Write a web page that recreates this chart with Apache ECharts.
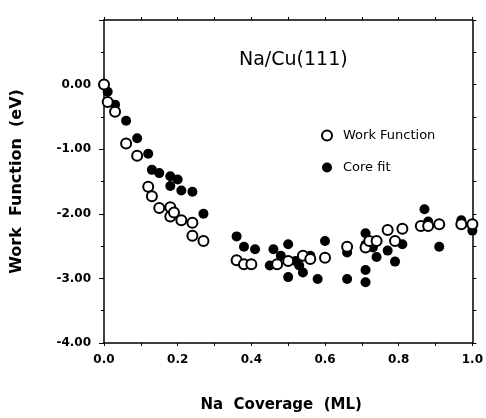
<!DOCTYPE html>
<html style="height: 100%">
    <head>
        <meta charset="utf-8">
    </head>
    <body style="height: 100%; margin: 0; background: #fff">
        <div id="container" style="height: 418px; width: 486px;"></div>

        <script type="text/javascript" src="https://cdn.jsdelivr.net/npm/echarts@6/dist/echarts.min.js"></script>
        <script type="text/javascript">
var dom = document.getElementById("container");
var myChart = echarts.init(dom, null, {renderer: 'canvas'});

// Na coverage (ML), work function change (eV) -- open circles
var workFunction = [
	[0.00, 0.00], [0.01, -0.27], [0.03, -0.42], [0.06, -0.91], [0.09, -1.10],
	[0.12, -1.58], [0.13, -1.73], [0.15, -1.91], [0.18, -1.90], [0.18, -2.04],
	[0.19, -1.98], [0.21, -2.10], [0.24, -2.14], [0.24, -2.34], [0.27, -2.42],
	[0.36, -2.72], [0.38, -2.78], [0.40, -2.78], [0.47, -2.78], [0.50, -2.73],
	[0.54, -2.65], [0.56, -2.70], [0.60, -2.68], [0.66, -2.51], [0.71, -2.52],
	[0.72, -2.42], [0.74, -2.42], [0.79, -2.42], [0.77, -2.25], [0.81, -2.23],
	[0.86, -2.19], [0.88, -2.19], [0.91, -2.16], [0.97, -2.16], [1.00, -2.16]
];

// Na coverage (ML), core level fit (eV) -- filled circles
var coreFit = [
	[0.01, -0.11], [0.03, -0.31], [0.06, -0.56], [0.09, -0.83], [0.12, -1.07],
	[0.13, -1.32], [0.15, -1.37], [0.18, -1.42], [0.20, -1.47], [0.18, -1.57],
	[0.21, -1.64], [0.24, -1.66], [0.27, -2.00], [0.36, -2.35], [0.38, -2.51],
	[0.41, -2.55], [0.45, -2.80], [0.46, -2.55], [0.50, -2.47], [0.48, -2.65],
	[0.50, -2.98], [0.52, -2.73], [0.53, -2.80], [0.54, -2.91], [0.56, -2.65],
	[0.60, -2.42], [0.58, -3.01], [0.66, -2.60], [0.66, -3.01], [0.71, -2.30],
	[0.71, -2.48], [0.71, -2.87], [0.71, -3.06], [0.73, -2.52], [0.74, -2.67],
	[0.77, -2.57], [0.79, -2.74], [0.81, -2.47], [0.87, -1.93], [0.88, -2.12],
	[0.91, -2.51], [0.97, -2.10], [1.00, -2.26]
];

var xTicks = [0, 1, 0.2];   // min, max, interval
var yTicks = [-4, 1, 1];
var yLabelMax = 0;          // no label printed above 0.00

var black = '#000';
var tickFont = {color: black, fontFamily: 'DejaVu Sans', fontWeight: 'bold', fontSize: 12};
var frameLine = {onZero: false, lineStyle: {color: black, width: 1.5}};

var option = {
	backgroundColor: '#fff',
	animation: false,
	title: {
		text: 'Na/Cu(111)',
		left: 234,
		top: 46,
		textStyle: {fontFamily: 'DejaVu Sans', fontWeight: 'normal', fontSize: 19, color: black}
	},
	legend: {
		orient: 'vertical',
		left: 316,
		top: 124,
		itemWidth: 22,
		itemHeight: 10,
		itemGap: 19,
		textStyle: {fontFamily: 'DejaVu Sans', fontSize: 13, color: black},
		data: ['Work Function', 'Core fit']
	},
	grid: {left: 104, right: 12, top: 20, bottom: 72},
	xAxis: [
		{
			type: 'value', min: xTicks[0], max: xTicks[1], interval: xTicks[2],
			name: 'Na  Coverage  (ML)', nameLocation: 'middle', nameGap: 55,
			nameTextStyle: {fontFamily: 'DejaVu Sans', fontWeight: 'bold', fontSize: 15, color: black, padding: [0, 14, 0, 0]},
			axisLine: frameLine,
			axisTick: {length: 3, lineStyle: {color: black}},
			minorTick: {show: true, splitNumber: 2, length: 3, lineStyle: {color: black}},
			axisLabel: Object.assign({margin: 11, formatter: function (v) { return v.toFixed(1); }}, tickFont),
			splitLine: {show: false}
		},
		{
			type: 'value', position: 'top', min: xTicks[0], max: xTicks[1], interval: xTicks[2],
			axisLine: frameLine,
			axisTick: {length: 3, lineStyle: {color: black}},
			minorTick: {show: true, splitNumber: 2, length: 3, lineStyle: {color: black}},
			axisLabel: {show: false},
			splitLine: {show: false}
		}
	],
	yAxis: [
		{
			type: 'value', min: yTicks[0], max: yTicks[1], interval: yTicks[2],
			name: 'Work  Function  (eV)', nameLocation: 'middle', nameGap: 79,
			nameTextStyle: {fontFamily: 'DejaVu Sans', fontWeight: 'bold', fontSize: 16, color: black},
			axisLine: frameLine,
			axisTick: {length: 5, lineStyle: {color: black}},
			minorTick: {show: true, splitNumber: 2, length: 3, lineStyle: {color: black}},
			axisLabel: Object.assign({margin: 13, formatter: function (v) {
				return v > yLabelMax ? '' : v.toFixed(2);
			}}, tickFont),
			splitLine: {show: false}
		},
		{
			type: 'value', position: 'right', min: yTicks[0], max: yTicks[1], interval: yTicks[2],
			axisLine: frameLine,
			axisTick: {length: 4, lineStyle: {color: black}},
			minorTick: {show: true, splitNumber: 2, length: 4, lineStyle: {color: black}},
			axisLabel: {show: false},
			splitLine: {show: false}
		}
	],
	series: [
		{
			name: 'Core fit',
			type: 'scatter',
			symbol: 'circle',
			symbolSize: 10,
			itemStyle: {color: black, opacity: 1},
			z: 2,
			data: coreFit
		},
		{
			name: 'Work Function',
			type: 'scatter',
			symbol: 'circle',
			symbolSize: 10,
			itemStyle: {color: '#fff', borderColor: black, borderWidth: 2, opacity: 1},
			z: 3,
			data: workFunction
		}
	]
};

myChart.setOption(option);
        </script>
    </body>
</html>
